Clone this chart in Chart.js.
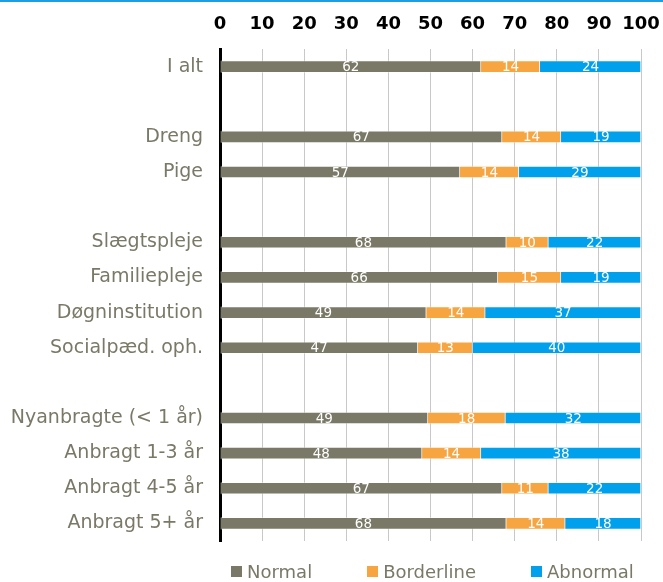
<!DOCTYPE html>
<html>
<head>
<meta charset="utf-8">
<script src="https://cdn.jsdelivr.net/npm/chart.js@4/dist/chart.umd.min.js"></script>
<style>
    body { margin: 0; background: #fff; font-family: "DejaVu Sans", Verdana, sans-serif; }
    #wrap { position: relative; width: 663px; height: 582px; }
    #topline { position: absolute; left: 0; top: 0; width: 663px; height: 2px; background: #1b9ee3; }
    #legend { position: absolute; left: 231px; top: 561px; display: flex; gap: 55px; color: #7a7866; font-size: 18px; }
    #legend span.box { display: inline-block; width: 11px; height: 11px; margin-right: 5px; }
    #legend div { display: flex; align-items: center; }
</style>
</head>
<body>
<div id="wrap">
    <canvas id="myChart" width="663" height="582"></canvas>
    <div id="topline"></div>
    <div id="legend"></div>
</div>
<script>
// Kategorier (tomme strenge er mellemrum mellem grupperne)
const categories = ["I alt", "", "Dreng", "Pige", "", "Slægtspleje", "Familiepleje", "Døgninstitution",
    "Socialpæd. oph.", "", "Nyanbragte (< 1 år)", "Anbragt 1-3 år", "Anbragt 4-5 år", "Anbragt 5+ år"];

const normal     = [62, null, 67, 57, null, 68, 66, 49, 47, null, 49.4, 48, 67, 68];
const borderline = [14, null, 14, 14, null, 10, 15, 14, 13, null, 18.4, 14, 11, 14];
const abnormal   = [24, null, 19, 29, null, 22, 19, 37, 40, null, 32.2, 38, 22, 18];

const seriesNames = ["Normal", "Borderline", "Abnormal"];
const seriesColors = ["#7a7866", "#f7a541", "#00a0ec"];
const xTicks = [0, 10, 20, 30, 40, 50, 60, 70, 80, 90, 100];

const textGray = "#7a7866";

// Tal i midten af hver bar
const barLabels = {
    id: 'barLabels',
    afterDatasetsDraw(chart) {
        const ctx = chart.ctx;
        ctx.save();
        ctx.font = '13.5px "DejaVu Sans"';
        ctx.fillStyle = '#ffffff';
        ctx.textAlign = 'center';
        ctx.textBaseline = 'middle';
        chart.data.datasets.forEach((ds, i) => {
            chart.getDatasetMeta(i).data.forEach((bar, j) => {
                const v = ds.data[j];
                if (v == null) return;
                const p = bar.getProps(['x', 'base', 'y'], true);
                ctx.fillText(Math.round(v), (p.x + p.base) / 2, p.y + 1);
            });
        });
        ctx.restore();
    }
};

const ctx = document.getElementById('myChart').getContext('2d');
const myChart = new Chart(ctx, {
    type: 'bar',
    data: {
        labels: categories,
        datasets: [normal, borderline, abnormal].map((d, i) => ({
            label: seriesNames[i],
            data: d,
            backgroundColor: seriesColors[i],
            borderColor: 'rgba(255,255,255,0.35)',
            borderWidth: 1,
            barThickness: 12
        }))
    },
    options: {
        indexAxis: 'y',
        responsive: false,
        animation: false,
        layout: { padding: { left: 0, right: 0, top: 0, bottom: 41 } },
        plugins: {
            legend: { display: false },
            tooltip: { enabled: false }
        },
        scales: {
            x: {
                position: 'top',
                stacked: true,
                min: 0,
                max: 100,
                afterBuildTicks: scale => { scale.ticks = xTicks.map(v => ({ value: v })); },
                afterFit: scale => {
                    scale.height = 49;
                    scale.paddingLeft = 0;
                    scale.paddingRight = 22;
                },
                grid: { color: '#c8c8c8', drawTicks: false },
                border: { display: false },
                ticks: {
                    color: '#000',
                    padding: 14,
                    minRotation: 0,
                    maxRotation: 0,
                    autoSkip: false,
                    font: { family: 'DejaVu Sans', size: 18, weight: 'bold' }
                }
            },
            y: {
                stacked: true,
                afterFit: scale => { scale.width = 220; },
                grid: { display: false, drawTicks: false },
                border: { display: true, color: '#000', width: 3 },
                ticks: {
                    color: textGray,
                    padding: 17,
                    autoSkip: false,
                    font: { family: 'DejaVu Sans', size: 19 }
                }
            }
        }
    },
    plugins: [barLabels]
});

// Forklaring
const legend = document.getElementById('legend');
seriesNames.forEach((name, i) => {
    const item = document.createElement('div');
    item.innerHTML = '<span class="box" style="background:' + seriesColors[i] + '"></span>' + name;
    legend.appendChild(item);
});
</script>
</body>
</html>
